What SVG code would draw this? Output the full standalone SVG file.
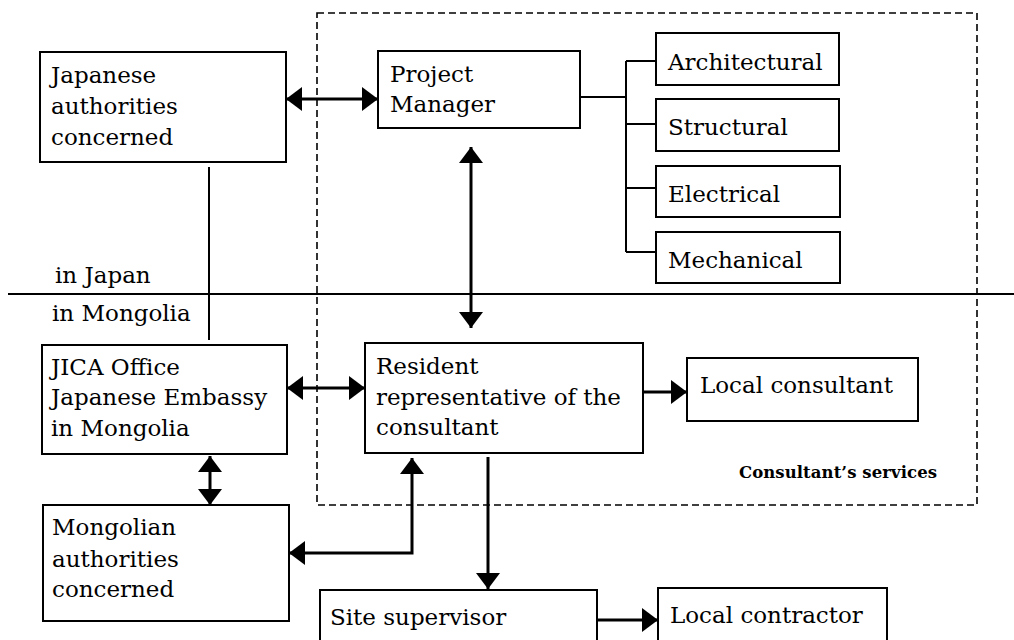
<svg xmlns="http://www.w3.org/2000/svg" width="1014" height="640" viewBox="0 0 1014 640">
<style>
.box{fill:#fff;stroke:#000;stroke-width:2}
.t{font-family:"DejaVu Serif","Liberation Serif",serif;font-size:23px;fill:#000}
.s{font-family:"DejaVu Serif","Liberation Serif",serif;font-size:16.5px;font-weight:bold;fill:#000}
.ln{fill:none;stroke:#000;stroke-width:2}
.ar{fill:none;stroke:#000;stroke-width:3;marker-end:url(#ah)}
.ar2{fill:none;stroke:#000;stroke-width:3;marker-start:url(#ah);marker-end:url(#ah)}
</style>
<defs>
<marker id="ah" markerUnits="userSpaceOnUse" markerWidth="17" markerHeight="24" refX="16" refY="12" orient="auto-start-reverse" viewBox="0 0 17 24">
<path d="M0,0 L16,12 L0,24 z" fill="#000"/>
</marker>
</defs>
<rect width="1014" height="640" fill="#fff"/>
<g id="consultant-services">
<rect x="317" y="13" width="660" height="492" fill="none" stroke="#000" stroke-width="1.6" stroke-dasharray="7 4"/>
<text class="s" x="739" y="478" textLength="198">Consultant’s services</text>
</g>
<g id="divider">
<path class="ln" d="M8,294 H1014" stroke-width="1.5"/>
<text class="t" x="55" y="283">in Japan</text>
<text class="t" x="52" y="321">in Mongolia</text>
</g>
<g id="connectors">
<path class="ar2" d="M286,99 H378"/>
<path class="ar2" d="M471,147 V328"/>
<path class="ar2" d="M287,388 H365"/>
<path class="ar" d="M643,392 H687"/>
<path class="ar2" d="M210,456 V505"/>
<path class="ar2" d="M412,458 V553 H289"/>
<path class="ar" d="M488,457 V589"/>
<path class="ar" d="M597,620 H658"/>
<path class="ln" d="M209,167 V340"/>
<path class="ln" d="M580,97 H626 M626,61 V252 M626,61 H656 M626,124 H656 M626,188 H656 M626,252 H656"/>
</g>
<g id="japanese-authorities">
<rect class="box" x="40" y="52" width="246" height="110"/>
<text class="t" x="51" y="83">Japanese</text>
<text class="t" x="51" y="114">authorities</text>
<text class="t" x="51" y="145">concerned</text>
</g>
<g id="project-manager">
<rect class="box" x="378" y="51" width="202" height="77"/>
<text class="t" x="390" y="82">Project</text>
<text class="t" x="390" y="112">Manager</text>
</g>
<g id="architectural">
<rect class="box" x="656" y="33" width="183" height="52"/>
<text class="t" x="668" y="70">Architectural</text>
</g>
<g id="structural">
<rect class="box" x="656" y="99" width="183" height="52"/>
<text class="t" x="668" y="135">Structural</text>
</g>
<g id="electrical">
<rect class="box" x="656" y="166" width="184" height="51"/>
<text class="t" x="668" y="202">Electrical</text>
</g>
<g id="mechanical">
<rect class="box" x="656" y="232" width="184" height="51"/>
<text class="t" x="668" y="268">Mechanical</text>
</g>
<g id="jica-office">
<rect class="box" x="42" y="345" width="245" height="109"/>
<text class="t" x="51" y="375">JICA Office</text>
<text class="t" x="51" y="405">Japanese Embassy</text>
<text class="t" x="51" y="436">in Mongolia</text>
</g>
<g id="resident-representative">
<rect class="box" x="365" y="343" width="278" height="110"/>
<text class="t" x="376" y="374">Resident</text>
<text class="t" x="376" y="405">representative of the</text>
<text class="t" x="376" y="435">consultant</text>
</g>
<g id="local-consultant">
<rect class="box" x="687" y="358" width="231" height="63"/>
<text class="t" x="700" y="393">Local consultant</text>
</g>
<g id="mongolian-authorities">
<rect class="box" x="43" y="505" width="246" height="116"/>
<text class="t" x="52" y="535">Mongolian</text>
<text class="t" x="52" y="567">authorities</text>
<text class="t" x="52" y="597">concerned</text>
</g>
<g id="site-supervisor">
<rect class="box" x="320" y="590" width="277" height="60"/>
<text class="t" x="330" y="625">Site supervisor</text>
</g>
<g id="local-contractor">
<rect class="box" x="658" y="588" width="229" height="60"/>
<text class="t" x="670" y="623">Local contractor</text>
</g>
</svg>
